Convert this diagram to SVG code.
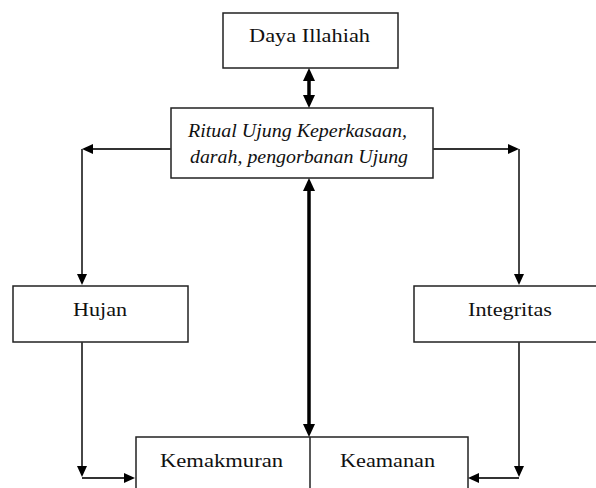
<svg xmlns="http://www.w3.org/2000/svg" width="596" height="488" viewBox="0 0 596 488">
<style>
.box{fill:#fff;stroke:#222;stroke-width:1.5}
.t{font-family:"Liberation Serif","Times New Roman",serif;font-size:19px;fill:#111;text-anchor:start}
.ti{font-family:"Liberation Serif","Times New Roman",serif;font-size:18px;font-style:italic;fill:#111}
.thin{fill:none;stroke:#333;stroke-width:1.8}
.thick{fill:none;stroke:#000;stroke-width:3.5}
</style>
<defs>
<marker id="ah" markerUnits="userSpaceOnUse" markerWidth="11" markerHeight="10" refX="4" refY="5" orient="auto-start-reverse" viewBox="0 0 11 10">
<path d="M0,0 L11,5 L0,10 z" fill="#000"/>
</marker>
<marker id="ahb" markerUnits="userSpaceOnUse" markerWidth="13" markerHeight="12" refX="5" refY="6" orient="auto-start-reverse" viewBox="0 0 13 12">
<path d="M0,0 L13,6 L0,12 z" fill="#000"/>
</marker>
</defs>
<g id="daya">
<rect class="box" x="223" y="13" width="175" height="55"/>
<text class="t" x="249" y="42" textLength="121" lengthAdjust="spacingAndGlyphs">Daya Illahiah</text>
</g>
<g id="ritual">
<rect class="box" x="171" y="108" width="262" height="70"/>
<text class="ti" x="188" y="137" textLength="219" lengthAdjust="spacingAndGlyphs">Ritual Ujung Keperkasaan,</text>
<text class="ti" x="190" y="163" textLength="218" lengthAdjust="spacingAndGlyphs">darah, pengorbanan Ujung</text>
</g>
<g id="hujan">
<rect class="box" x="13" y="286" width="175" height="56"/>
<text class="t" x="73" y="316" textLength="54" lengthAdjust="spacingAndGlyphs">Hujan</text>
</g>
<g id="integritas">
<rect class="box" x="414" y="286" width="200" height="56"/>
<text class="t" x="468" y="316" textLength="84" lengthAdjust="spacingAndGlyphs">Integritas</text>
</g>
<g id="hasil">
<rect class="box" x="136" y="437" width="332" height="80"/>
<line x1="310" y1="437" x2="310" y2="490" stroke="#222" stroke-width="1.5"/>
<text class="t" x="160" y="467" textLength="123" lengthAdjust="spacingAndGlyphs">Kemakmuran</text>
<text class="t" x="340" y="467" textLength="95" lengthAdjust="spacingAndGlyphs">Keamanan</text>
</g>
<g id="connectors">
<path class="thick" d="M309,76 V100" marker-start="url(#ahb)" marker-end="url(#ahb)"/>
<path class="thick" d="M309,186 V429" marker-start="url(#ahb)" marker-end="url(#ahb)"/>
<path class="thin" d="M171,149 H89" marker-end="url(#ah)"/>
<path class="thin" d="M82,149 V278" marker-end="url(#ah)"/>
<path class="thin" d="M433,149 H512" marker-end="url(#ah)"/>
<path class="thin" d="M519,149 V278" marker-end="url(#ah)"/>
<path class="thin" d="M82,342 V470" marker-end="url(#ah)"/>
<path class="thin" d="M82,478 H128" marker-end="url(#ah)"/>
<path class="thin" d="M519,342 V470" marker-end="url(#ah)"/>
<path class="thin" d="M519,478 H475" marker-end="url(#ah)"/>
</g>
</svg>
